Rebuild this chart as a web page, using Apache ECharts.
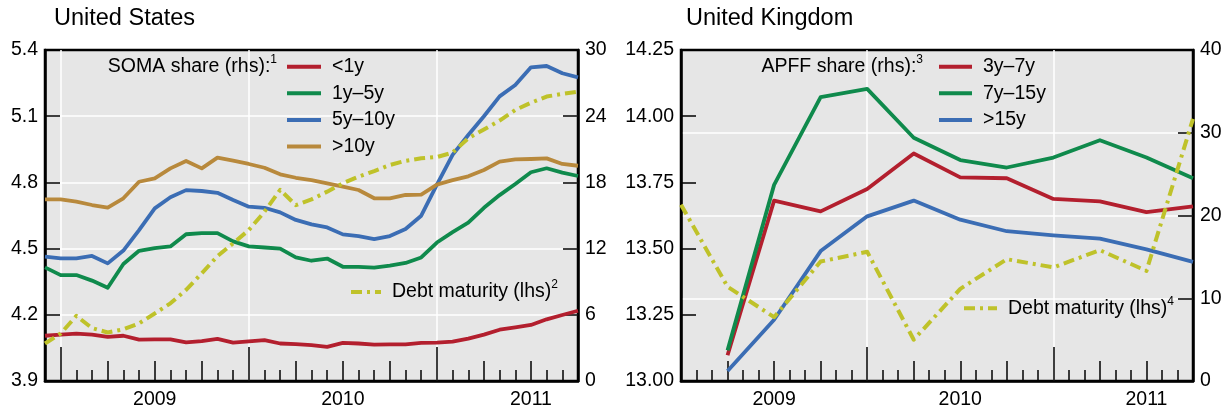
<!DOCTYPE html>
<html>
<head>
<meta charset="utf-8">
<script src="https://cdn.jsdelivr.net/npm/echarts@6/dist/echarts.min.js"></script>
<style>
html,body{margin:0;padding:0;background:#fff;}
#chart{width:1228px;height:412px;}
</style>
</head>
<body>
<div id="chart"></div>
<script>
// ---------------- DATA ----------------
// United States: monthly, Dec 2008 - Oct 2011
const usMonths = ['2008-12',
  '2009-01','2009-02','2009-03','2009-04','2009-05','2009-06','2009-07','2009-08','2009-09','2009-10','2009-11','2009-12',
  '2010-01','2010-02','2010-03','2010-04','2010-05','2010-06','2010-07','2010-08','2010-09','2010-10','2010-11','2010-12',
  '2011-01','2011-02','2011-03','2011-04','2011-05','2011-06','2011-07','2011-08','2011-09','2011-10'];
// SOMA share (rhs, %)
const usLt1y   = [4.1,4.2,4.3,4.2,4.0,4.1,3.75,3.78,3.78,3.5,3.62,3.82,3.48,3.6,3.7,3.4,3.35,3.25,3.1,3.45,3.4,3.3,3.32,3.32,3.45,3.47,3.56,3.84,4.2,4.65,4.86,5.08,5.59,5.98,6.37];
const us1to5   = [10.3,9.6,9.6,9.1,8.45,10.6,11.8,12.05,12.2,13.3,13.4,13.4,12.65,12.2,12.1,12.0,11.2,10.9,11.1,10.35,10.35,10.27,10.45,10.7,11.2,12.55,13.5,14.35,15.7,16.85,17.86,18.92,19.28,18.88,18.58];
const us5to10  = [11.27,11.12,11.12,11.33,10.66,11.82,13.68,15.65,16.65,17.3,17.22,17.06,16.4,15.8,15.7,15.28,14.6,14.2,13.92,13.29,13.14,12.86,13.14,13.77,14.98,17.8,20.5,22.3,24.0,25.8,26.83,28.43,28.55,27.89,27.52];
const usGt10y  = [16.47,16.47,16.26,15.95,15.71,16.56,18.06,18.36,19.27,19.94,19.27,20.24,19.97,19.67,19.33,18.73,18.42,18.21,17.91,17.61,17.31,16.56,16.56,16.86,16.9,17.8,18.2,18.55,19.12,19.88,20.09,20.12,20.18,19.67,19.51];
// Debt maturity (lhs, years)
const usDebt   = [4.07,4.115,4.195,4.14,4.12,4.134,4.161,4.206,4.252,4.313,4.388,4.466,4.524,4.584,4.667,4.766,4.697,4.723,4.758,4.796,4.826,4.851,4.879,4.898,4.909,4.915,4.935,5.0,5.04,5.08,5.128,5.161,5.189,5.201,5.211];

// United Kingdom: monthly axis Jan 2009 - Oct 2011, quarterly observations
const ukMonths = [
  '2009-01','2009-02','2009-03','2009-04','2009-05','2009-06','2009-07','2009-08','2009-09','2009-10','2009-11','2009-12',
  '2010-01','2010-02','2010-03','2010-04','2010-05','2010-06','2010-07','2010-08','2010-09','2010-10','2010-11','2010-12',
  '2011-01','2011-02','2011-03','2011-04','2011-05','2011-06','2011-07','2011-08','2011-09','2011-10'];
const ukQuarters = ['2009-01','2009-04','2009-07','2009-10','2010-01','2010-04','2010-07','2010-10','2011-01','2011-04','2011-07','2011-10'];
// APFF share (rhs, %)
const uk3to7   = [null,3.12,21.8,20.5,23.2,27.5,24.6,24.5,22.0,21.7,20.4,21.1];
const uk7to15  = [null,3.7,23.7,34.3,35.3,29.4,26.7,25.8,27.0,29.1,27.0,24.5];
const ukGt15y  = [null,1.2,7.4,15.7,19.9,21.8,19.5,18.1,17.6,17.2,15.9,14.4];
// Debt maturity (lhs, years)
const ukDebt   = [13.666,13.356,13.241,13.451,13.488,13.156,13.348,13.46,13.429,13.494,13.416,13.99];

// Axis tick definitions
const usLeftTicks  = {min: 3.9, max: 5.4, interval: 0.3};
const usRightTicks = {min: 0, max: 30, interval: 6};
const ukLeftTicks  = {min: 13.0, max: 14.25, interval: 0.25};
const ukRightTicks = {min: 0, max: 40, interval: 10};

// ---------------- STYLE ----------------
const FONT = 'Liberation Sans, Arial, Helvetica, sans-serif';
const C = {red:'#b31f2e', green:'#0f8a4c', blue:'#3b6db4', gold:'#b8893c', olive:'#bfc22a'};
const LW = 3.8;
const DASH = [11, 5, 3, 5];
const axisFont = {fontSize: 19.5, color: '#000', fontFamily: FONT};
const monthOf = v => v.slice(5);

function xAxesFor(g, cats) {
  const base = {gridIndex: g, type: 'category', data: cats, boundaryGap: false, position: 'bottom',
    splitLine: {show: false}, axisPointer: {show: false}};
  return [
    Object.assign({}, base, {
      axisLine: {show: true, lineStyle: {color: '#000', width: 2.5}},
      axisTick: {show: true, inside: true, length: 11, interval: () => true, lineStyle: {color: '#000', width: 1.5}},
      axisLabel: Object.assign({show: true, margin: 9, interval: (i, v) => monthOf(v) === '07',
        formatter: v => v.slice(0, 4)}, axisFont)
    }),
    Object.assign({}, base, {
      axisLine: {show: false},
      axisTick: {show: true, inside: true, length: 20, interval: (i, v) => ['01','04','07','10'].indexOf(monthOf(v)) >= 0,
        lineStyle: {color: '#000', width: 1.5}},
      axisLabel: {show: false}
    }),
    Object.assign({}, base, {
      axisLine: {show: false},
      axisTick: {show: true, inside: true, length: 34, interval: (i, v) => monthOf(v) === '01',
        lineStyle: {color: '#000', width: 1.5}},
      axisLabel: {show: false},
      splitLine: {show: true, interval: (i, v) => i > 0 && monthOf(v) === '01',
        lineStyle: {color: '#fff', width: 1.5}}
    })
  ];
}

function yAxisFor(g, pos, t, decimals, split) {
  return {
    gridIndex: g, type: 'value', position: pos, min: t.min, max: t.max, interval: t.interval,
    axisLine: {show: true, lineStyle: {color: '#000', width: 2.5}},
    axisTick: {show: true, inside: true, length: 15, lineStyle: {color: '#000', width: 1.5}},
    axisLabel: Object.assign({margin: 7, formatter: v => v.toFixed(decimals)}, axisFont),
    splitLine: {show: split, showMinLine: false, showMaxLine: false, lineStyle: {color: '#fff', width: 1.5}}
  };
}

function line(name, xi, yi, data, color, dashed) {
  return {
    name: name, type: 'line', xAxisIndex: xi, yAxisIndex: yi, data: data,
    symbol: 'none', smooth: false, connectNulls: false, animation: false,
    lineStyle: {color: color, width: dashed ? 4 : LW, type: dashed ? DASH : 'solid', cap: 'butt', join: 'round'},
    itemStyle: {color: color}, emphasis: {disabled: true}
  };
}

const pairs = (xs, ys) => xs.map((x, k) => [x, ys[k]]);

const supRich = {sup: {fontSize: 12, fontFamily: FONT, color: '#000', verticalAlign: 'top', lineHeight: 12}};

function legend(left, top, names, width, fmt, lh) {
  return {
    left: left, top: top, orient: 'vertical', padding: 0, itemGap: 6.6, itemWidth: width, itemHeight: 14,
    selectedMode: false, data: names, formatter: fmt || (n => n),
    textStyle: {fontSize: 19.5, color: '#000', fontFamily: FONT, lineHeight: lh || 20, padding: [0, 0, 0, 6], rich: supRich},
    itemStyle: {opacity: 0}, lineStyle: {width: 4}
  };
}

const chart = echarts.init(document.getElementById('chart'), null, {renderer: 'canvas'});
chart.setOption({
  animation: false,
  backgroundColor: '#fff',
  title: [
    {text: 'United States', left: 54, top: 7, padding: 0, textStyle: {fontSize: 23.5, fontWeight: 'normal', color: '#000', fontFamily: FONT}},
    {text: 'United Kingdom', left: 686, top: 7, padding: 0, textStyle: {fontSize: 23.5, fontWeight: 'normal', color: '#000', fontFamily: FONT}}
  ],
  grid: [
    {left: 45, right: 650, top: 50, bottom: 31, show: true, backgroundColor: '#e6e6e6', borderColor: '#000', borderWidth: 2.5},
    {left: 681, right: 35, top: 50, bottom: 31, show: true, backgroundColor: '#e6e6e6', borderColor: '#000', borderWidth: 2.5}
  ],
  xAxis: xAxesFor(0, usMonths).concat(xAxesFor(1, ukMonths)),
  yAxis: [
    yAxisFor(0, 'left', usLeftTicks, 1, true),
    yAxisFor(0, 'right', usRightTicks, 0, false),
    yAxisFor(1, 'left', ukLeftTicks, 2, false),
    yAxisFor(1, 'right', ukRightTicks, 0, true)
  ],
  legend: [
    legend(285, 56.7, ['<1y', '1y–5y', '5y–10y', '>10y'], 34),
    legend(349, 279, ['usDebt'], 30, () => 'Debt maturity (lhs){sup|2}', 26),
    legend(937, 56.7, ['3y–7y', '7y–15y', '>15y'], 33),
    legend(962, 295.3, ['ukDebt'], 33, () => 'Debt maturity (lhs){sup|4}', 26)
  ],
  graphic: [
    {type: 'text', x: 277, y: 67, style: {text: 'SOMA share (rhs):{sup|1}', align: 'right', verticalAlign: 'middle',
      fontSize: 19.5, fontFamily: FONT, fill: '#000', lineHeight: 26, rich: supRich}},
    {type: 'text', x: 923, y: 67, style: {text: 'APFF share (rhs):{sup|3}', align: 'right', verticalAlign: 'middle',
      fontSize: 19.5, fontFamily: FONT, fill: '#000', lineHeight: 26, rich: supRich}}
  ],
  series: [
    line('<1y', 0, 1, usLt1y, C.red),
    line('1y–5y', 0, 1, us1to5, C.green),
    line('5y–10y', 0, 1, us5to10, C.blue),
    line('>10y', 0, 1, usGt10y, C.gold),
    line('usDebt', 0, 0, usDebt, C.olive, true),
    line('3y–7y', 3, 3, pairs(ukQuarters, uk3to7), C.red),
    line('7y–15y', 3, 3, pairs(ukQuarters, uk7to15), C.green),
    line('>15y', 3, 3, pairs(ukQuarters, ukGt15y), C.blue),
    line('ukDebt', 3, 2, pairs(ukQuarters, ukDebt), C.olive, true)
  ]
});
</script>
</body>
</html>
